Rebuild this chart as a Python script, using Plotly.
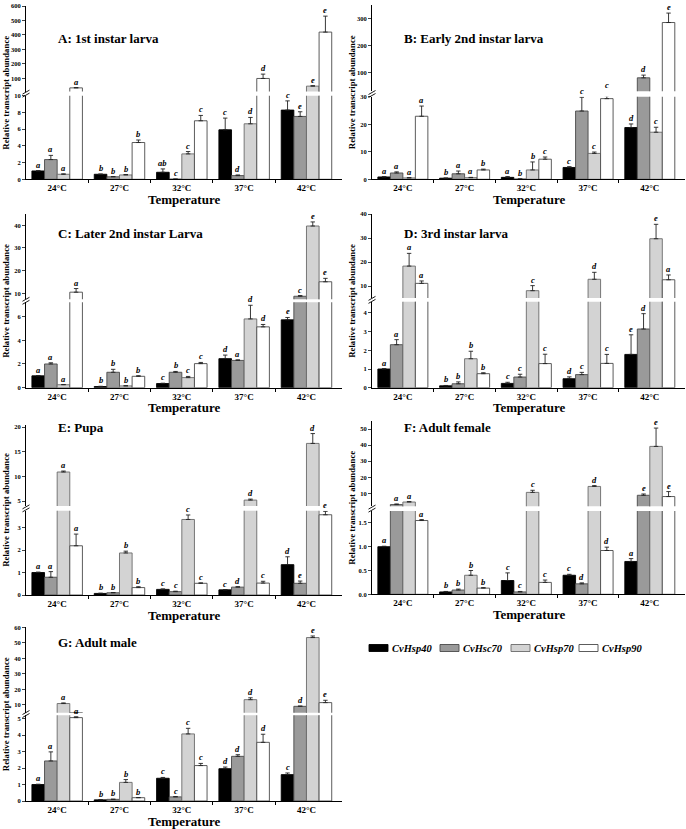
import plotly.graph_objects as go

W, H = 686, 829

temps = ["24°C", "27°C", "32°C", "37°C", "42°C"]
genes = ["CvHsp40", "CvHsc70", "CvHsp70", "CvHsp90"]

# ---- Panel A: 1st instar larva (rows: Hsp40, Hsc70, Hsp70, Hsp90) ----
A_mean = [[1.0, 0.6, 0.84, 5.92, 8.28],
          [2.36, 0.3, 0.02, 0.44, 7.52],
          [0.6, 0.52, 3.04, 6.64, 47],
          [35, 4.4, 7.0, 100, 420]]
A_err = [[0.03, 0.03, 0.4, 1.4, 1.1],
         [0.5, 0.03, 0.01, 0.08, 0.56],
         [0.05, 0.05, 0.28, 0.76, 3],
         [2, 0.3, 0.64, 30, 110]]
A_let = [["a", "b", "ab", "c", "c"], ["a", "b", "c", "d", "e"],
         ["a", "b", "c", "d", "e"], ["a", "b", "c", "d", "e"]]

# ---- Panel B: Early 2nd instar larva ----
B_mean = [[0.85, 0.4, 0.7, 4.3, 18.8],
          [2.3, 2.0, 0.1, 24.8, 80],
          [0.5, 0.6, 3.4, 9.4, 17.1],
          [22.9, 3.4, 7.3, 29.3, 285]]
B_err = [[0.1, 0.05, 0.3, 0.3, 1.3],
         [0.4, 1.0, 0.05, 5, 10],
         [0.1, 0.1, 2.9, 0.5, 1.8],
         [3.7, 0.3, 0.8, 1.0, 35]]
B_let = [["a", "b", "a", "c", "d"], ["a", "a", "b", "c", "d"],
         ["a", "a", "b", "c", "c"], ["a", "b", "c", "c", "e"]]

# ---- Panel C: Later 2nd instar Larva ----
C_mean = [[1.0, 0.1, 0.35, 2.45, 5.72],
          [2.0, 1.3, 1.3, 2.3, 8.7],
          [0.25, 0.15, 0.85, 5.8, 39.7],
          [10.5, 0.96, 2.03, 5.13, 15.1]]
C_err = [[0.02, 0.02, 0.03, 0.3, 0.2],
         [0.1, 0.25, 0.07, 0.05, 0.3],
         [0.02, 0.02, 0.1, 1.15, 1.8],
         [1.6, 0.05, 0.1, 0.2, 1.5]]
C_let = [["a", "b", "c", "d", "e"], ["a", "b", "b", "a", "c"],
         ["a", "b", "c", "d", "e"], ["a", "b", "c", "d", "e"]]

# ---- Panel D: 3rd instar larva ----
D_mean = [[1.0, 0.1, 0.23, 0.48, 1.78],
          [2.3, 0.21, 0.57, 0.7, 3.14],
          [18.3, 1.55, 8.05, 12.8, 29.7],
          [11.1, 0.75, 1.29, 1.3, 12.6]]
D_err = [[0.02, 0.02, 0.06, 0.1, 1.05],
         [0.27, 0.1, 0.15, 0.12, 0.82],
         [5.3, 0.4, 2.1, 2.9, 6],
         [1.0, 0.05, 0.5, 0.48, 2]]
D_let = [["a", "b", "c", "d", "e"], ["a", "b", "c", "c", "d"],
         ["a", "b", "c", "d", "e"], ["a", "b", "c", "c", "a"]]

# ---- Panel E: Pupa ----
E_mean = [[1.0, 0.07, 0.25, 0.23, 1.35],
          [0.79, 0.1, 0.15, 0.35, 0.52],
          [10.9, 1.87, 3.36, 5.2, 16.7],
          [2.19, 0.33, 0.52, 0.53, 3.57]]
E_err = [[0.02, 0.01, 0.02, 0.01, 0.35],
         [0.25, 0.01, 0.02, 0.02, 0.1],
         [0.2, 0.08, 0.2, 0.2, 2.0],
         [0.52, 0.04, 0.02, 0.08, 0.15]]
E_let = [["a", "b", "c", "c", "d"], ["a", "b", "c", "d", "e"],
         ["a", "b", "c", "d", "d"], ["a", "b", "c", "c", "e"]]

# ---- Panel F: Adult female ----
F_mean = [[1.0, 0.05, 0.29, 0.4, 0.69],
          [3.0, 0.09, 0.05, 0.22, 8.8],
          [4.6, 0.4, 10.6, 14.3, 39.2],
          [1.55, 0.13, 0.25, 0.92, 8.0]]
F_err = [[0.01, 0.01, 0.16, 0.02, 0.06],
         [0.4, 0.02, 0.01, 0.02, 0.8],
         [0.3, 0.1, 1.3, 0.5, 11.4],
         [0.02, 0.01, 0.05, 0.07, 3.1]]
F_let = [["a", "b", "c", "c", "a"], ["a", "b", "c", "d", "e"],
         ["a", "b", "c", "d", "e"], ["a", "b", "c", "d", "e"]]

# ---- Panel G: Adult male ----
G_mean = [[1.0, 0.07, 1.38, 1.96, 1.6],
          [2.43, 0.1, 0.25, 2.71, 9.1],
          [10.9, 1.13, 4.07, 13.4, 53.4],
          [5.06, 0.2, 2.15, 3.56, 11.5]]
G_err = [[0.02, 0.01, 0.05, 0.1, 0.1],
         [0.55, 0.01, 0.02, 0.1, 0.2],
         [0.4, 0.17, 0.34, 1.2, 1.0],
         [0.05, 0.01, 0.13, 0.49, 1.5]]
G_let = [["a", "b", "c", "d", "c"], ["a", "b", "c", "d", "d"],
         ["a", "b", "c", "d", "e"], ["a", "b", "c", "d", "e"]]

titles = ["A: 1st instar larva", "B: Early 2nd instar larva", "C: Later 2nd instar Larva",
          "D: 3rd instar larva", "E: Pupa", "F: Adult female", "G: Adult male"]
means = [A_mean, B_mean, C_mean, D_mean, E_mean, F_mean, G_mean]
errs = [A_err, B_err, C_err, D_err, E_err, F_err, G_err]
lets = [A_let, B_let, C_let, D_let, E_let, F_let, G_let]

# broken-axis ranges and ticks
low_ranges = [[0, 10], [0, 30], [0, 7.2], [0, 4.6], [0, 3.75], [0, 1.75], [0, 5.2]]
up_ranges = [[10, 600], [30, 350], [7.4, 45], [5, 40], [4, 20.5], [2, 55], [5, 60]]
low_ticks = [[0, 2, 4, 6, 8, 10], [0, 10, 20, 30], [0, 2, 4, 6], [0, 1, 2, 3, 4],
             [0, 1, 2, 3], [0, 0.5, 1.0, 1.5], [0, 1, 2, 3, 4, 5]]
up_ticks = [[100, 200, 300, 400, 500, 600], [100, 200, 300], [10, 20, 30, 40], [10, 20, 30, 40],
            [5, 10, 15, 20], [10, 20, 30, 40, 50], [10, 20, 30, 40, 50, 60]]
low_fmt = ["", "", "", "", "", ".1f", ""]

# layout geometry in pixels: x0, x1, lower-bottom, lower-top, upper-bottom, upper-top, title-y
geom = [(26, 342, 179.3, 95.7, 91.5, 6, 38),
        (372, 685, 179.3, 96.7, 91.3, 5, 38),
        (26, 342, 387.7, 302.3, 299.2, 214, 233),
        (372, 685, 387.7, 301.7, 298, 214, 233),
        (26, 342, 595, 510.7, 506, 424.7, 427),
        (372, 685, 594.3, 511, 506.2, 421, 427),
        (26, 342, 801, 715.3, 712.7, 627.3, 642)]

fills = ["#000000", "#9a9a9a", "#d3d3d3", "#ffffff"]
edges = ["#000000", "#4a4a4a", "#6a6a6a", "#4a4a4a"]
FONT = "Liberation Serif"
legend_px = [(369, 648), (440, 648), (511, 648), (579, 648)]


def px(x):
    return x / W


def py(y):
    return 1 - y / H


idx = list(range(len(temps)))
bw = 0.81 / len(genes)

fig = go.Figure()
layout = {}
annotations = []
shapes = []

for p in range(len(titles)):
    x0, x1, lb, lt, ub, ut, ty = geom[p]
    nlo, nup = 2 * p + 1, 2 * p + 2
    for which, n in (("low", nlo), ("up", nup)):
        xa, ya = f"x{n}", f"y{n}"
        for j, g in enumerate(genes):
            vals = list(means[p][j])
            ers = list(errs[p][j])
            if which == "up":
                keep = [v > up_ranges[p][0] for v in vals]
                vals = [v if k else None for v, k in zip(vals, keep)]
                ers = [e if k else 0 for e, k in zip(ers, keep)]
            else:
                keep = [v <= low_ranges[p][1] for v in vals]
                ers = [e if k else 0 for e, k in zip(ers, keep)]
            fig.add_trace(go.Bar(
                x=idx, y=vals, width=bw, offset=(j - 2) * bw,
                marker=dict(color=fills[j], line=dict(color=edges[j], width=0.9)),
                error_y=dict(type="data", symmetric=False, array=ers,
                             arrayminus=[0] * len(idx), color="#222222",
                             thickness=0.9, width=2.2),
                name=g, showlegend=False,
                xaxis=xa, yaxis=ya))
    # axes
    xdom = [px(x0), px(x1)]
    layout[f"xaxis{nlo}"] = dict(
        domain=xdom, anchor=f"y{nlo}", range=[-0.5, 4.57],
        tickvals=idx, ticktext=temps, ticks="", showline=True, linecolor="black",
        linewidth=1, showgrid=False, zeroline=False,
        tickfont=dict(family=FONT, size=9, color="black", weight="bold"),
        minor=dict(tickvals=[0.5, 1.5, 2.5, 3.5], ticks="outside", ticklen=3,
                   tickcolor="black", tickwidth=0.8))
    layout[f"xaxis{nup}"] = dict(domain=xdom, anchor=f"y{nup}", range=[-0.5, 4.57],
                                 matches=f"x{nlo}", visible=False)
    yfont = dict(family=FONT, size=6.5, color="black", weight="bold")
    layout[f"yaxis{nlo}"] = dict(
        domain=[py(lb), py(lt)], anchor=f"x{nlo}", range=low_ranges[p],
        tickvals=low_ticks[p], tickformat=low_fmt[p], ticks="outside", ticklen=3,
        tickwidth=0.8, showline=True, linecolor="black", linewidth=1,
        showgrid=False, zeroline=False, tickfont=yfont)
    layout[f"yaxis{nup}"] = dict(
        domain=[py(ub), py(ut)], anchor=f"x{nup}", range=up_ranges[p],
        tickvals=up_ticks[p], ticks="outside", ticklen=3, tickwidth=0.8,
        showline=True, linecolor="black", linewidth=1,
        showgrid=False, zeroline=False, tickfont=yfont)

    # significance letters
    for j in range(len(genes)):
        for i in idx:
            vtop = means[p][j][i] + errs[p][j][i]
            if vtop <= low_ranges[p][1]:
                ref, yv = nlo, vtop
            else:
                ref, yv = nup, max(vtop, up_ranges[p][0])
            annotations.append(dict(
                x=i + (j - 1.5) * bw, y=yv, xref=f"x{ref}", yref=f"y{ref}",
                text=lets[p][j][i], showarrow=False, yanchor="bottom",
                borderpad=0, yshift=0,
                font=dict(family=FONT, size=8.5, color="#000000", weight="bold", style="italic")))

    # panel title, x title, y title
    annotations.append(dict(x=px(x0 + 30), y=py(ty), xref="paper", yref="paper",
                            text=titles[p], showarrow=False, xanchor="left", yanchor="middle",
                            font=dict(family=FONT, size=13, color="black", weight="bold")))
    annotations.append(dict(x=px((x0 + x1) / 2), y=py(lb + 20), xref="paper", yref="paper",
                            text="Temperature", showarrow=False, xanchor="center", yanchor="middle",
                            borderpad=0,
                            font=dict(family=FONT, size=13, color="black", weight="bold")))
    annotations.append(dict(x=px(x0 - 20), y=py((ut + lb) / 2), xref="paper", yref="paper",
                            text="Relative transcript abundance", showarrow=False, textangle=-90,
                            xanchor="center", yanchor="middle",
                            font=dict(family=FONT, size=8.8, color="black", weight="bold")))
    # break marks on the y axis
    gc = (lt + ub) / 2
    for k in (-1.5, 1.5):
        shapes.append(dict(type="line", xref="paper", yref="paper",
                           x0=px(x0 - 3.5), y0=py(gc + k + 2), x1=px(x0 + 3.5), y1=py(gc + k - 2),
                           line=dict(color="black", width=0.9)))

# legend: swatches + italic gene names
for j, g in enumerate(genes):
    lx, ly = legend_px[j]
    shapes.append(dict(type="rect", xref="paper", yref="paper",
                       x0=px(lx), x1=px(lx + 19), y0=py(ly + 3.5), y1=py(ly - 3.5),
                       fillcolor=fills[j], line=dict(color=edges[j], width=0.9)))
    annotations.append(dict(x=px(lx + 21), y=py(ly), xref="paper", yref="paper", text=g,
                            showarrow=False, xanchor="left", yanchor="middle",
                            font=dict(family=FONT, size=10.5, color="black",
                                      weight="bold", style="italic")))

fig.update_layout(**layout)
fig.update_layout(
    width=W, height=H, margin=dict(l=0, r=0, t=0, b=0),
    template="none", paper_bgcolor="white", plot_bgcolor="white",
    annotations=annotations, shapes=shapes, showlegend=False,
)

fig.write_html("out.html", config={"displayModeBar": False},
               post_script="document.body.style.margin='0px';document.body.style.padding='0px';")
